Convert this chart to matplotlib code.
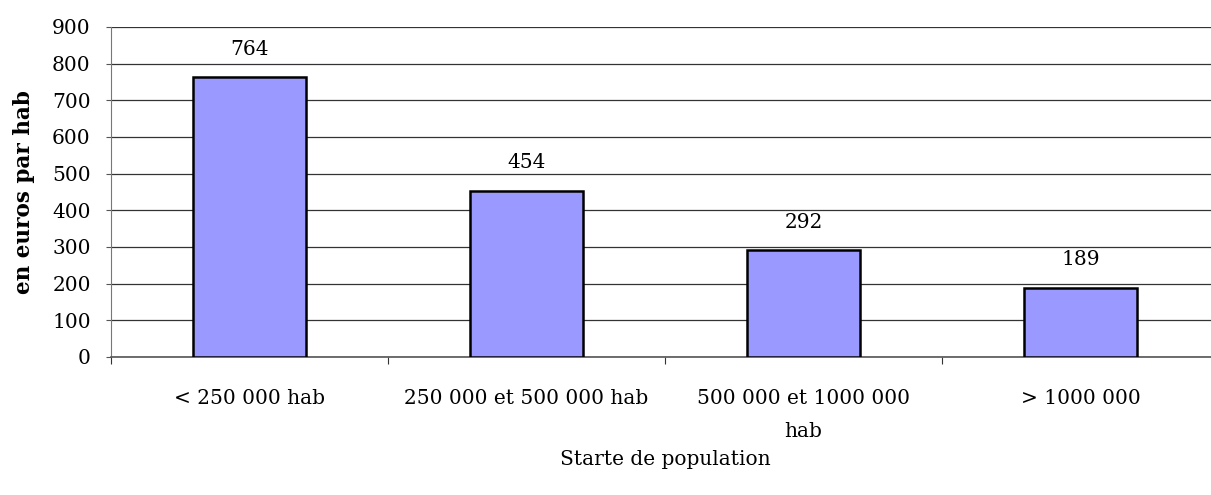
import matplotlib
matplotlib.use("Agg")
import matplotlib.pyplot as plt
import numpy as np

# Data
categories = ["< 250 000 hab", "250 000 et 500 000 hab", "500 000 et 1000 000\nhab", "> 1000 000"]
values = [764, 454, 292, 189]
y_ticks = [0, 100, 200, 300, 400, 500, 600, 700, 800, 900]

plt.rcParams['font.family'] = ['DejaVu Serif']

fig = plt.figure(figsize=(12.11, 4.95), dpi=100)
ax = fig.add_axes([111 / 1211, 1 - 357 / 495, (1219 - 111) / 1211, (357 - 27) / 495])

x = np.arange(len(categories))
ax.bar(x, values, width=0.405, color='#9999FF', edgecolor='black', linewidth=1.8, zorder=3)

for xi, v in zip(x, values):
    ax.text(xi, v + 50, str(v), ha='center', va='bottom', fontsize=14.5)

ax.set_xlim(-0.5, len(categories) - 0.5)
ax.set_ylim(0, 900)
ax.set_yticks(y_ticks)
ax.yaxis.grid(True, color='#333333', linewidth=0.9, zorder=0)
ax.tick_params(axis='y', labelsize=14.5, length=3.6, pad=11, color='#555555', direction='out')

# category boundary ticks on x
ax.set_xticks(np.arange(len(categories) + 1) - 0.5)
ax.set_xticklabels([])
ax.set_xticks(x, minor=True)
ax.set_xticklabels(categories, minor=True, fontsize=14.5, linespacing=1.95)
ax.tick_params(axis='x', which='major', length=5, color='#333333', direction='out')
ax.tick_params(axis='x', which='minor', length=0, pad=23)

for side in ['top', 'right']:
    ax.spines[side].set_visible(False)
ax.spines['left'].set_color('#777777')
ax.spines['bottom'].set_color('#555555')
ax.spines['bottom'].set_linewidth(1.2)

ax.set_ylabel('en euros par hab', fontsize=15.5, fontweight='bold', labelpad=12)
ax.set_xlabel('Starte de population', fontsize=14.5, labelpad=6)

fig.savefig('out.png', dpi=100)
